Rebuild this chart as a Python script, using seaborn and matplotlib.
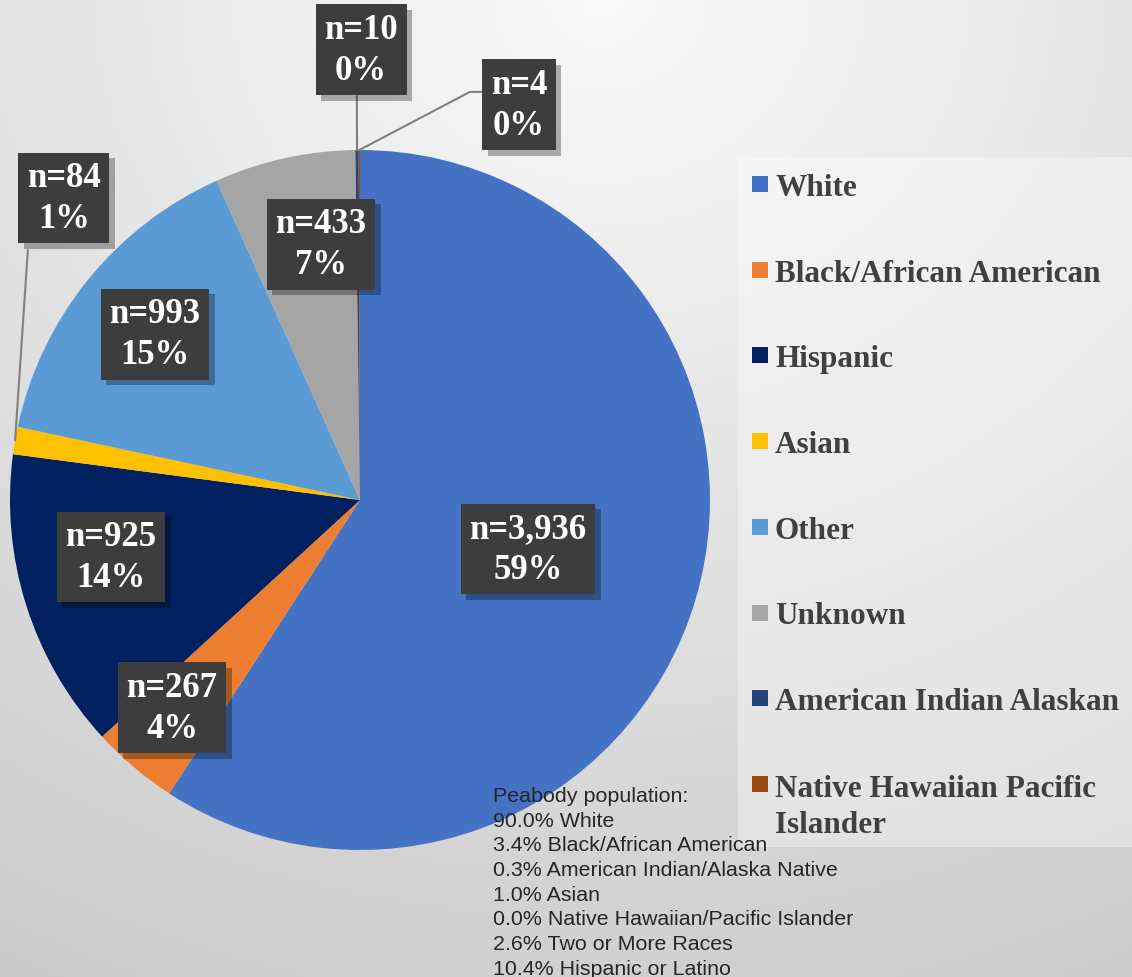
import numpy as np
import matplotlib
matplotlib.use('Agg')
import matplotlib.pyplot as plt
import matplotlib.patheffects as pe
from matplotlib.patches import Rectangle
import seaborn as sns

# data
categories = ['White', 'Black/African American', 'Hispanic', 'Asian', 'Other', 'Unknown',
              'American Indian Alaskan', 'Native Hawaiian Pacific\nIslander']
counts = [3936, 267, 925, 84, 993, 433, 10, 4]
colors = ['#4472C4', '#ED7D31', '#002060', '#FFC000', '#5B9BD5', '#A5A5A5', '#264478', '#9E480E']
population_lines = ['Peabody population:', '90.0% White', '3.4% Black/African American',
                    '0.3% American Indian/Alaska Native', '1.0% Asian',
                    '0.0% Native Hawaiian/Pacific Islander', '2.6% Two or More Races',
                    '10.4% Hispanic or Latino']

# label box centres, in pie units (radius = 1)
label_pos = [(0.48, -0.14), (-0.537, -0.594), (-0.711, -0.163), (-0.846, 0.863),
             (-0.586, 0.474), (-0.111, 0.731), (0.003, 1.286), (0.454, 1.129)]
# leader lines for the thin slices: index -> points after the slice edge
leaders = {3: [(-0.949, 0.714)], 6: [(-0.009, 1.154)], 7: [(0.314, 1.166), (0.349, 1.166)]}

sns.set_style('white')
plt.rcParams['font.family'] = ['Liberation Serif', 'DejaVu Serif']

W, H = 1132, 978
fig = plt.figure(figsize=(W / 100, H / 100), dpi=100)

# grey radial background
bg = fig.add_axes([0, 0, 1, 1], zorder=-10)
yy, xx = np.mgrid[0:H, 0:W]
d = np.hypot((xx - 600) / W, yy / H)
shade = 0.98 - 0.2 * np.clip(d / 1.2, 0, 1)
bg.imshow(np.dstack([shade] * 3), aspect='auto', extent=[0, 1, 0, 1])
bg.axis('off')

# lighter panel behind the legend
fig.patches.append(Rectangle((738 / W, 1 - 848 / H), 1 - 738 / W, (848 - 158) / H,
                             transform=fig.transFigure, facecolor='white', alpha=0.35,
                             edgecolor='none', zorder=-5))

ax = fig.add_axes([10 / W, 1 - 851 / H, 700 / W, 700 / H])
wedges, _ = ax.pie(counts, colors=colors, startangle=90, counterclock=False,
                   wedgeprops=dict(linewidth=0))
ax.set_xlim(-1, 1)
ax.set_ylim(-1, 1)
ax.set_aspect('equal')
ax.axis('off')

total = sum(counts)
for i, (c, (lx, ly)) in enumerate(zip(counts, label_pos)):
    if i in leaders:
        w = wedges[i]
        mid = np.deg2rad((w.theta1 + w.theta2) / 2)
        pts = [(np.cos(mid), np.sin(mid))] + leaders[i]
        ax.plot([p[0] for p in pts], [p[1] for p in pts], color='#808080', lw=1.5,
                clip_on=False, zorder=3)
    t = ax.text(lx, ly, f'n={c:,}\n{c / total * 100:.0f}%', ha='center', va='center',
                fontsize=25, fontweight='bold', color='white', linespacing=1.3,
                bbox=dict(boxstyle='square,pad=0.25', facecolor='#3d3d3d',
                          edgecolor='none', linewidth=0),
                zorder=5)
    t.get_bbox_patch().set_path_effects([
        pe.SimplePatchShadow(offset=(4, -4), shadow_rgbFace='black', alpha=0.3),
        pe.Normal()])

# legend drawn by hand so it lines up with the original
for i, (cat, col) in enumerate(zip(categories, colors)):
    yc = 185 + i * 85.7
    extra = cat.count('\n') * 37
    fig.patches.append(Rectangle((752 / W, 1 - (yc + 8) / H), 16 / W, 16 / H,
                                 transform=fig.transFigure, facecolor=col, edgecolor='none'))
    fig.text(775 / W, 1 - (yc + 11 + extra) / H, cat, fontsize=22.5, fontweight='bold',
             color='#404040', ha='left', va='baseline', linespacing=1.33)

# population note, one text per line
for k, line in enumerate(population_lines):
    fig.text(493 / W, 1 - (802 + k * 24.7) / H, line, fontsize=15.4,
             family='Liberation Sans', color='#262626', ha='left', va='baseline')

fig.savefig('out.png', dpi=100)
